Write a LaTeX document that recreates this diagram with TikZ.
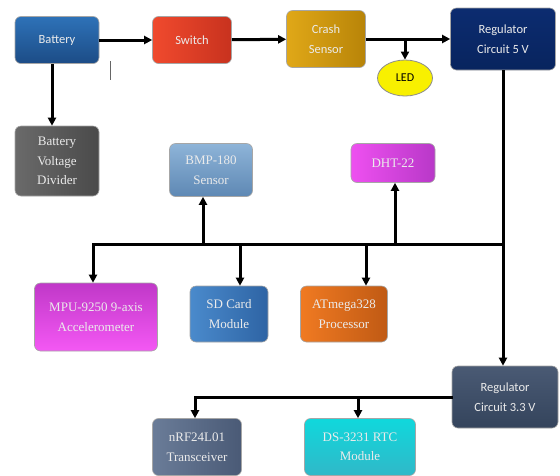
\documentclass[tikz,border=0pt]{standalone}
\usepackage{fontspec}
\setmainfont{Liberation Serif}
\newfontfamily\calfont{Carlito}
\usetikzlibrary{arrows.meta,shapes.geometric}
\definecolor{cbatA}{HTML}{2E72B8}\definecolor{cbatB}{HTML}{1C4C86}
\definecolor{cswA}{HTML}{F04A2E}\definecolor{cswB}{HTML}{C8321E}
\definecolor{ccrA}{HTML}{E0A818}\definecolor{ccrB}{HTML}{B88408}
\definecolor{cregA}{HTML}{0C2C70}\definecolor{cregB}{HTML}{08245E}
\definecolor{cvdA}{HTML}{6A6A6A}\definecolor{cvdB}{HTML}{4A4A4A}
\definecolor{cbmpA}{HTML}{8EB4D8}\definecolor{cbmpB}{HTML}{5E88B4}
\definecolor{cdhtA}{HTML}{EE50F0}\definecolor{cdhtB}{HTML}{B838C8}
\definecolor{cmpuA}{HTML}{C038C8}\definecolor{cmpuB}{HTML}{F458F4}
\definecolor{csdA}{HTML}{4A8ACC}\definecolor{csdB}{HTML}{2E64A4}
\definecolor{catA}{HTML}{F07A22}\definecolor{catB}{HTML}{C05A14}
\definecolor{cr3A}{HTML}{4A5A74}\definecolor{cr3B}{HTML}{34445C}
\definecolor{cnrA}{HTML}{6A7C98}\definecolor{cnrB}{HTML}{4A5A76}
\definecolor{cdsA}{HTML}{10D8DC}\definecolor{cdsB}{HTML}{30B8C8}
\definecolor{ledY}{HTML}{F8F000}
\tikzset{
  blk/.style={rounded corners=6pt, align=center, text=white!92!black, inner sep=2pt, draw=black!35, line width=0.6pt},
  sansblk/.style={blk, font=\calfont\fontsize{12.5}{20}\selectfont},
  serifblk/.style={blk, font=\fontsize{13}{19.5}\selectfont},
  arr/.style={line width=3pt, -{Triangle[length=8pt,width=8pt]}},
  ln/.style={line width=3pt},
}
\begin{document}
\begin{tikzpicture}[x=1pt,y=-1pt]
\useasboundingbox (0,0) rectangle (560,475);
\fill[white] (0,0) rectangle (560,475);
% top row
\node[sansblk, minimum width=84pt, minimum height=47pt, top color=cbatA, bottom color=cbatB] (bat) at (57,40) {Battery};
\node[sansblk, minimum width=79pt, minimum height=47pt, left color=cswA, right color=cswB] (sw) at (192,40) {Switch};
\node[sansblk, minimum width=79pt, minimum height=57pt, left color=ccrA, right color=ccrB] (cr) at (326,39) {Crash\\Sensor};
\node[sansblk, minimum width=105pt, minimum height=62pt, top color=cregA, bottom color=cregB] (reg5) at (503,39) {Regulator\\Circuit 5 V};
\node[ellipse, draw=black!45, line width=0.8pt, fill=ledY, minimum width=55pt, minimum height=36pt, inner sep=0pt, font=\calfont\fontsize{12}{14}\selectfont] (led) at (405,78) {LED};
% second row
\node[serifblk, minimum width=84pt, minimum height=70pt, left color=cvdA, right color=cvdB] (vd) at (57,161) {Battery\\Voltage\\Divider};
\node[serifblk, minimum width=83pt, minimum height=53pt, top color=cbmpA, bottom color=cbmpB] (bmp) at (211,170) {BMP-180\\Sensor};
\node[serifblk, minimum width=84pt, minimum height=39pt, left color=cdhtA, right color=cdhtB] (dht) at (393,163) {DHT-22};
% third row
\node[serifblk, minimum width=123pt, minimum height=68pt, top color=cmpuA, bottom color=cmpuB] (mpu) at (96,317) {MPU-9250 9-axis\\Accelerometer};
\node[serifblk, minimum width=78pt, minimum height=56pt, left color=csdA, right color=csdB] (sd) at (229,314) {SD Card\\Module};
\node[serifblk, minimum width=87pt, minimum height=56pt, left color=catA, right color=catB] (at) at (344,314) {ATmega328\\Processor};
% bottom
\node[sansblk, minimum width=106pt, minimum height=62pt, top color=cr3A, bottom color=cr3B] (reg3) at (505,397) {Regulator\\Circuit 3.3 V};
\node[serifblk, minimum width=89pt, minimum height=57pt, left color=cnrA, right color=cnrB] (nrf) at (197,447) {nRF24L01\\Transceiver};
\node[serifblk, minimum width=111pt, minimum height=57pt, top color=cdsA, bottom color=cdsB] (ds) at (360,447) {DS-3231 RTC\\Module};
% connectors top
\draw[arr] (bat) -- (sw);
\draw[arr] (sw) -- (cr);
\draw[arr] (cr.east |- reg5.west) -- (reg5.west);
\coordinate (ledj) at (405,39);
\draw[arr] (ledj) -- (led.north);
\draw[arr] ([xshift=-5pt]bat.south) -- ([xshift=-5pt]vd.north);
\draw[black!60, line width=0.8pt] (110,61) -- (110,80);
% 5V rail
\coordinate (busR) at (503,244);
\coordinate (busL) at (93,244);
\draw[arr] (reg5.south) -- (reg5.south |- reg3.north);
\draw[ln, line cap=rect] (busR) -- (busL);
\coordinate (bB) at (203,244);
\coordinate (bD) at (395,244);
\coordinate (bS) at (240,244);
\coordinate (bA) at (366,244);
\draw[arr] (bB) -- (bB |- bmp.south);
\draw[arr] (bD) -- (bD |- dht.south);
\draw[arr] (busL) -- (busL |- mpu.north);
\draw[arr] (bS) -- (bS |- sd.north);
\draw[arr] (bA) -- (bA |- at.north);
% 3.3V rail
\coordinate (r3L) at (195,397);
\coordinate (r3D) at (358,397);
\draw[ln, line cap=rect] (reg3.west) -- (r3L);
\draw[arr] (r3L) -- (r3L |- nrf.north);
\draw[arr] (r3D) -- (r3D |- ds.north);
\end{tikzpicture}
\end{document}
